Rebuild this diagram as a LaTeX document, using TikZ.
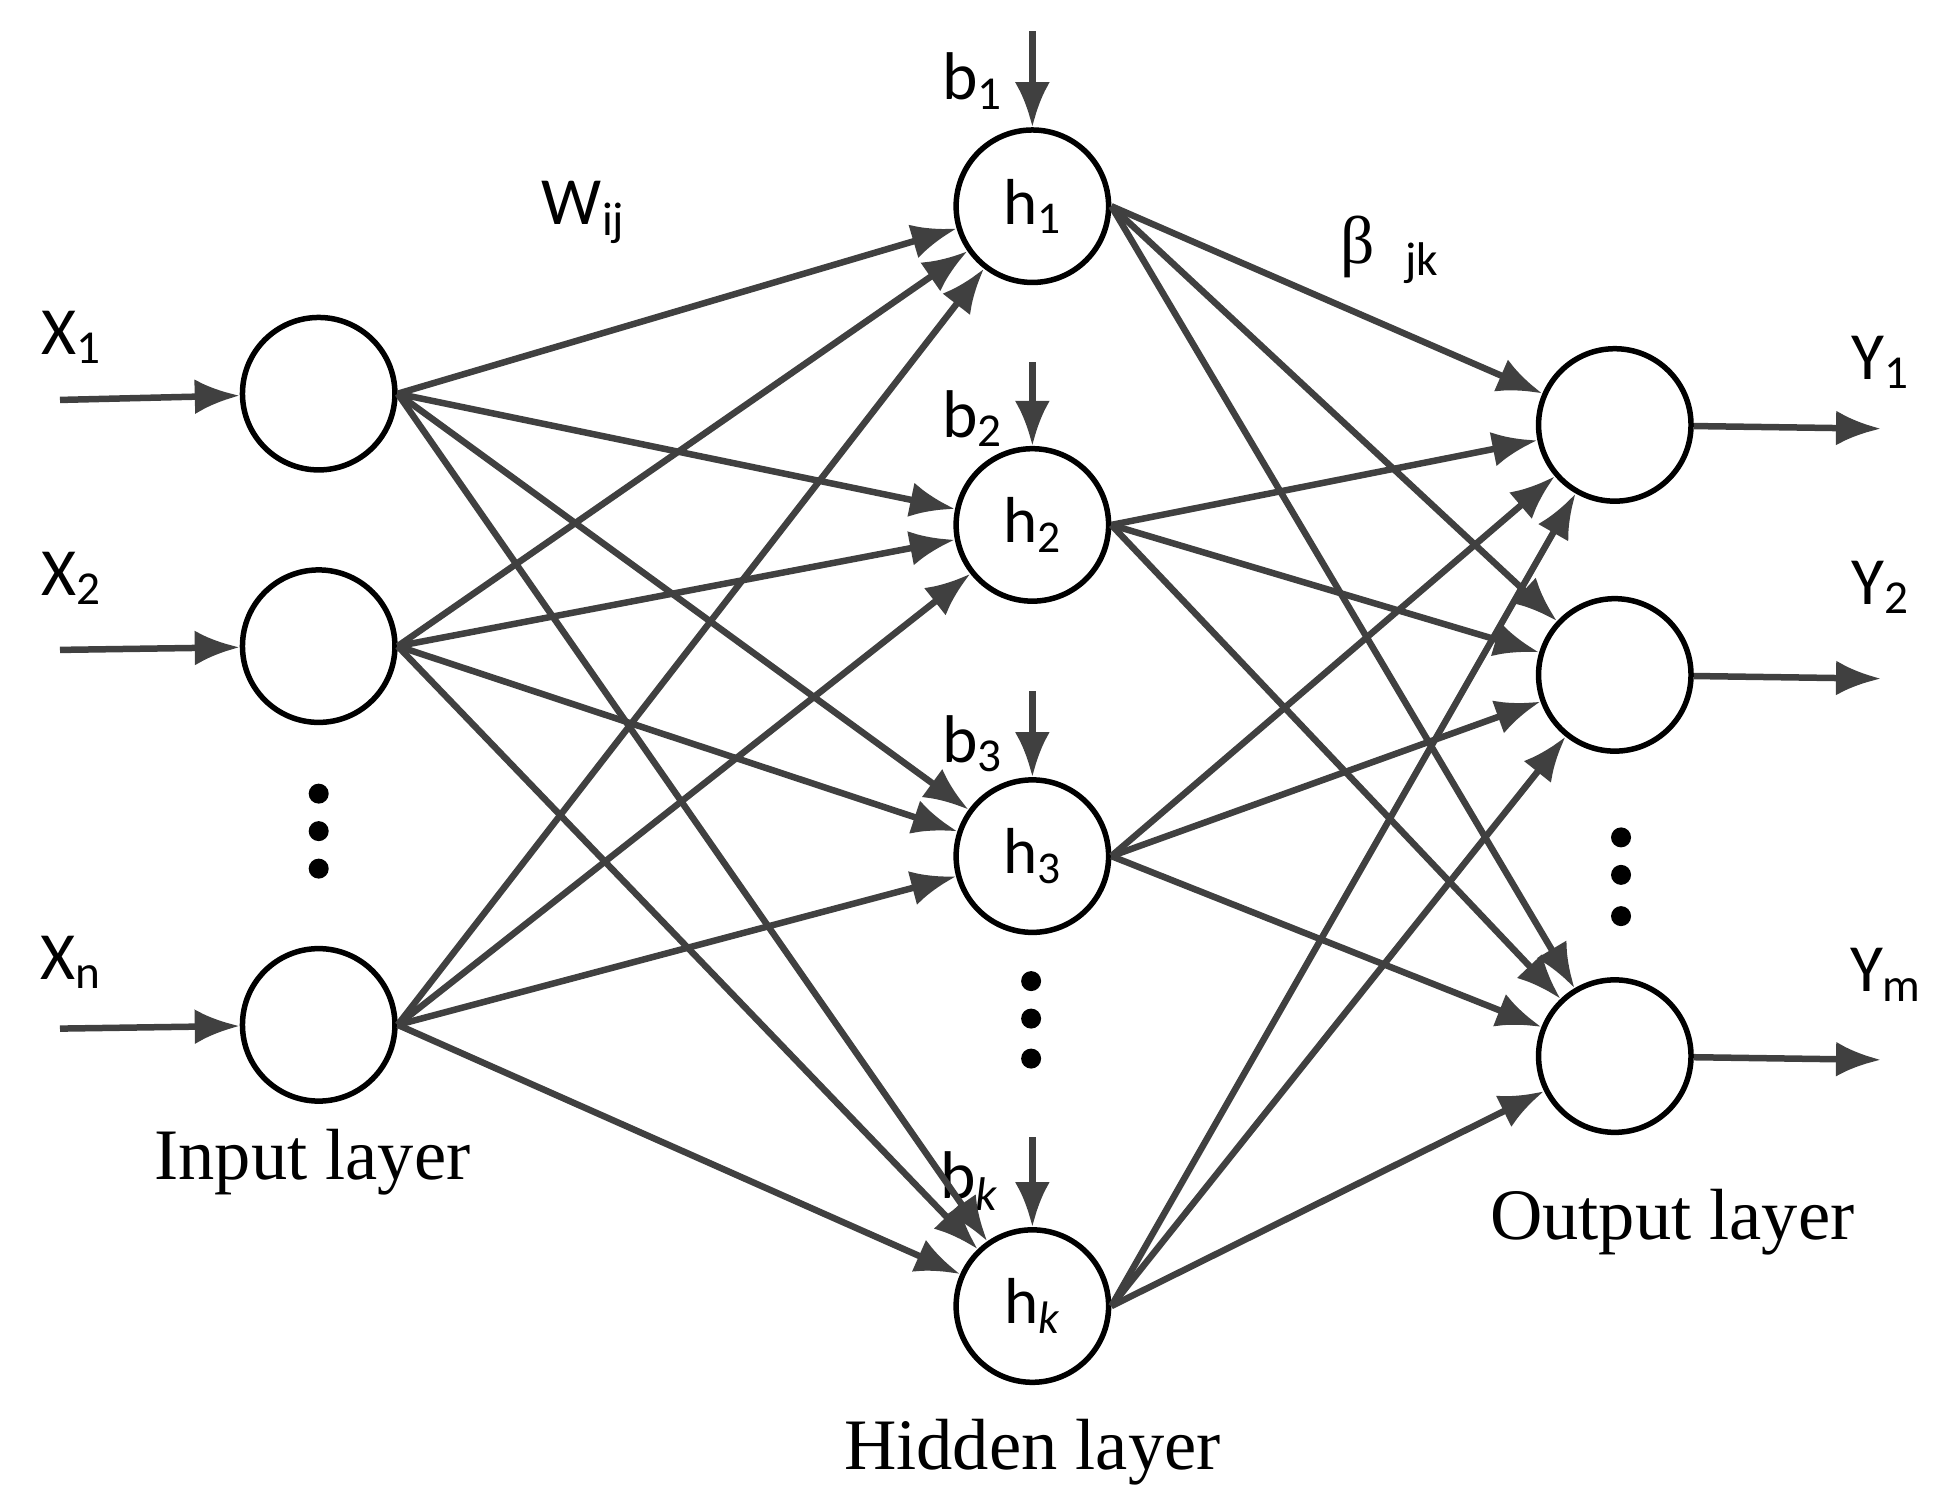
\documentclass[tikz,border=0pt]{standalone}
\usepackage{fontspec}
\setmainfont{Carlito}
\newfontfamily\serifx{Liberation Serif}
\usetikzlibrary{arrows.meta}
\begin{document}
\begin{tikzpicture}[x=0.5pt,y=-0.5pt,
  neuron/.style={draw=black, circle, line width=2.2pt, minimum size=61pt, inner sep=0pt, font=\fontsize{26}{28}\selectfont},
  conn/.style={draw=black!75, line width=2.6pt, -{Latex[length=18pt,width=14pt]}},
  lbl/.style={font=\fontsize{27}{29}\selectfont, inner sep=0pt},
  layer/.style={font=\serifx\fontsize{29}{31}\selectfont, inner sep=0pt},
  dot/.style={fill=black, circle, inner sep=0pt, minimum size=8pt}]
\useasboundingbox (0,0) rectangle (1565,1202);
% nodes
\node[neuron] (i1) at (255,315) {};
\node[neuron] (i2) at (255,517) {};
\node[neuron] (i3) at (255,820) {};
\node[neuron] (h1) at (826,165) {h\textsubscript{1}};
\node[neuron] (h2) at (826,420) {h\textsubscript{2}};
\node[neuron] (h3) at (826,685) {h\textsubscript{3}};
\node[neuron] (h4) at (826,1045) {h\textsubscript{\textit{k}}};
\node[neuron] (o1) at (1292,340) {};
\node[neuron] (o2) at (1292,540) {};
\node[neuron] (o3) at (1292,845) {};
% dots
\foreach \y [count=\n] in {635,665,695} \node[dot] (di\n) at (255,\y) {};
\foreach \y [count=\n] in {785,815,847} \node[dot] (dh\n) at (825,\y) {};
\foreach \y [count=\n] in {670,700,733} \node[dot] (do\n) at (1297,\y) {};
% free ends
\coordinate (x1) at (48,320);
\coordinate (x2) at (48,520);
\coordinate (x3) at (48,823);
\coordinate (y1) at (1505,343);
\coordinate (y2) at (1505,543);
\coordinate (y3) at (1505,848);
\coordinate (bb1) at (826,25);
\coordinate (bb2) at (826,290);
\coordinate (bb3) at (826,553);
\coordinate (bb4) at (826,910);
% labels
\node[lbl] (lx1) at (57,270) {X\textsubscript{1}};
\node[lbl] (lx2) at (57,463) {X\textsubscript{2}};
\node[lbl] (lx3) at (57,770) {X\textsubscript{n}};
\node[lbl] (ly1) at (1505,290) {Y\textsubscript{1}};
\node[lbl] (ly2) at (1505,470) {Y\textsubscript{2}};
\node[lbl] (ly3) at (1509,780) {Y\textsubscript{m}};
\node[lbl] (lb1) at (778,65) {b\textsubscript{1}};
\node[lbl] (lb2) at (778,335) {b\textsubscript{2}};
\node[lbl] (lb3) at (778,595) {b\textsubscript{3}};
\node[lbl] (lb4) at (776,945) {b\textsubscript{\textit{k}}};
\node[lbl] (lw) at (467,170) {W\textsubscript{ij}};
\node[lbl] (lbeta) at (1112,200) {{\serifx β}\ \ \textsubscript{jk}};
\node[layer] (li) at (250,930) {Input layer};
\node[layer] (lh) at (826,1162) {Hidden layer};
\node[layer] (lo) at (1338,978) {Output layer};
% edges
\draw[conn] (x1) -- (i1);
\draw[conn] (x2) -- (i2);
\draw[conn] (x3) -- (i3);
\draw[conn] (o1) -- (y1);
\draw[conn] (o2) -- (y2);
\draw[conn] (o3) -- (y3);
\draw[conn] (bb1) -- (h1);
\draw[conn] (bb2) -- (h2);
\draw[conn] (bb3) -- (h3);
\draw[conn] (bb4) -- (h4);
\foreach \i in {i1,i2,i3}
  \foreach \h in {h1,h2,h3,h4}
    \draw[conn] (\i.east) -- (\h);
\foreach \h in {h1,h2,h3,h4}
  \foreach \o in {o1,o2,o3}
    \draw[conn] (\h.east) -- (\o);
\end{tikzpicture}
\end{document}
